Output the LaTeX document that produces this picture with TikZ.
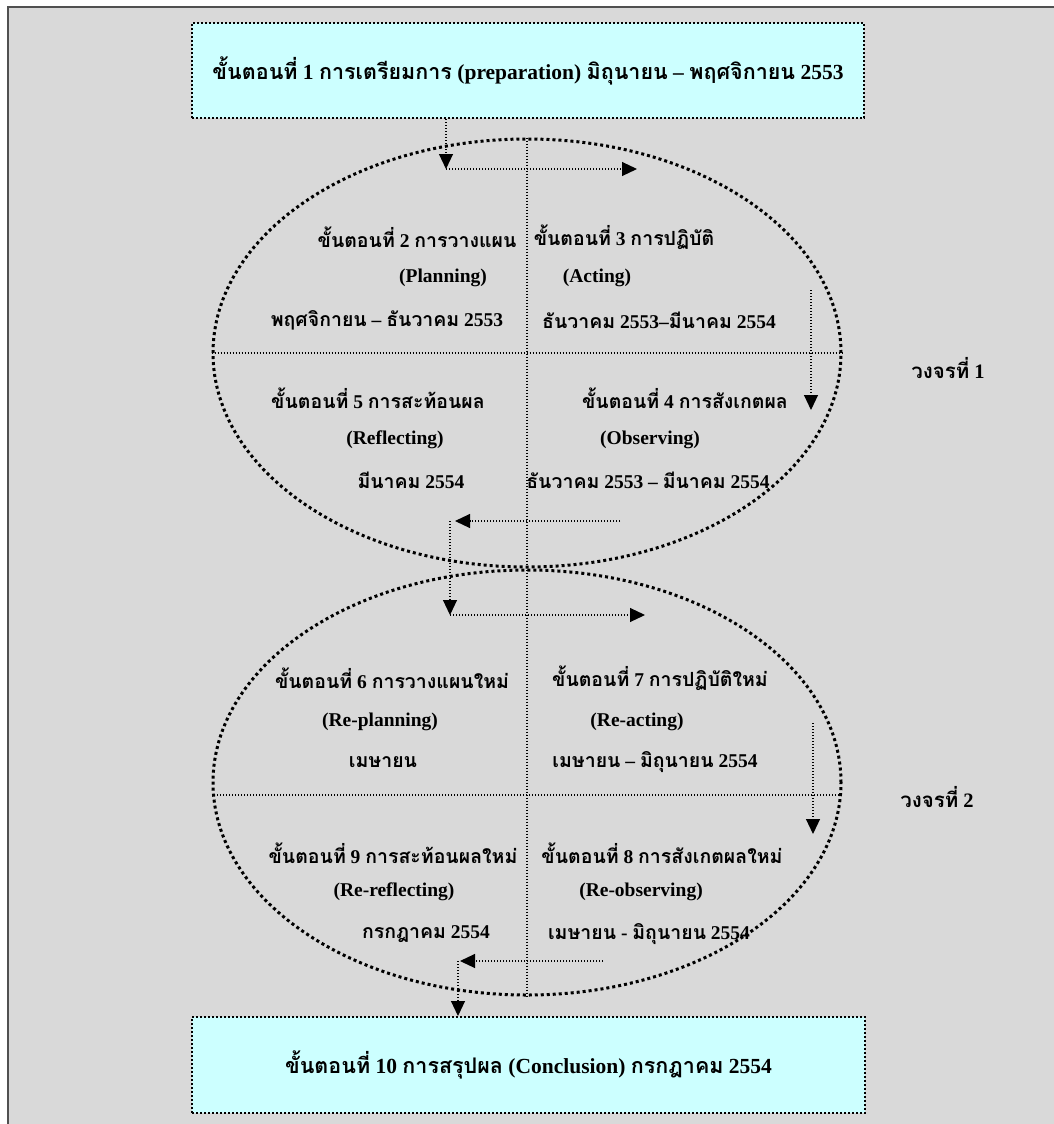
\documentclass[tikz,border=0pt]{standalone}
\usepackage{fontspec}
\setmainfont{Liberation Serif}
\newfontfamily\thaifont[Script=Thai]{Loma}
\newcommand{\thaitxt}[1]{{\thaifont #1}}
\usetikzlibrary{arrows.meta,shapes.geometric}
\definecolor{bggray}{HTML}{D9D9D9}
\definecolor{framegray}{HTML}{505050}
\definecolor{boxcyan}{HTML}{CCFFFF}

\begin{document}
\begin{tikzpicture}[x=1pt, y=-1pt,
    txt/.style={font=\bfseries\fontsize{19.5}{23}\selectfont, inner sep=0pt},
    phasebox/.style={draw, fill=boxcyan, line width=2pt, dash pattern=on 2pt off 2pt,
                     font=\bfseries\fontsize{21.5}{25}\selectfont},
    cycleline/.style={draw, ellipse, line width=3pt, dash pattern=on 3pt off 3pt,
                      minimum width=628, minimum height=428, inner sep=0pt},
    divider/.style={line width=1.1pt, dash pattern=on 1.1pt off 1.9pt},
    flow/.style={divider, -{Triangle[width=14pt,length=15pt]}}
  ]

        %Page and frame
        \useasboundingbox (0,0) rectangle (1054,1124);
        \fill [white]    (0,0) rectangle (1054,1124);
        \fill [bggray]   (8,7) rectangle (1054,1124);
        \draw [framegray, line width=2pt] (8,1124) -- (8,7) -- (1054,7);

        %Preparation and conclusion
        \node [phasebox, minimum width=672, minimum height=95] (prep) at (528,70.5)
              {\thaitxt{ขั้นตอนที่} 1 \thaitxt{การเตรียมการ} (preparation) \thaitxt{มิถุนายน} – \thaitxt{พฤศจิกายน} 2553};
        \node [phasebox, minimum width=673, minimum height=96] (conc) at (528.5,1065)
              {\thaitxt{ขั้นตอนที่} 10 \thaitxt{การสรุปผล} (Conclusion) \thaitxt{กรกฎาคม} 2554};

        %Cycles
        \node [cycleline] (cyc1) at (527,353) {};
        \node [cycleline, minimum height=425] (cyc2) at (527,782.5) {};
        \draw [divider]  (cyc1.north)  --  (cyc2.south);
        \draw [divider]  (cyc1.west)   --  (cyc1.east);
        \draw [divider]  (214,795)     --  (840,795);

        \node [txt, font=\bfseries\fontsize{20.5}{24}\selectfont] (lap1) at (948,368) {\thaitxt{วงจรที่} 1};
        \node [txt, font=\bfseries\fontsize{20.5}{24}\selectfont] (lap2) at (937,797) {\thaitxt{วงจรที่} 2};

        %Cycle 1 texts
        \node [txt] (s2a) at (417,237) {\thaitxt{ขั้นตอนที่} 2 \thaitxt{การวางแผน}};
        \node [txt] (s2b) at (443,278) {(Planning)};
        \node [txt] (s2c) at (387,320) {\thaitxt{พฤศจิกายน} – \thaitxt{ธันวาคม} 2553};
        \node [txt] (s3a) at (624,237) {\thaitxt{ขั้นตอนที่} 3 \thaitxt{การปฏิบัติ}};
        \node [txt] (s3b) at (597,278) {(Acting)};
        \node [txt] (s3c) at (659,320) {\thaitxt{ธันวาคม} 2553–\thaitxt{มีนาคม} 2554};
        \node [txt] (s5a) at (378,398) {\thaitxt{ขั้นตอนที่} 5 \thaitxt{การสะท้อนผล}};
        \node [txt] (s5b) at (395,440) {(Reflecting)};
        \node [txt] (s5c) at (411,480) {\thaitxt{มีนาคม} 2554};
        \node [txt] (s4a) at (685,398) {\thaitxt{ขั้นตอนที่} 4 \thaitxt{การสังเกตผล}};
        \node [txt] (s4b) at (650,440) {(Observing)};
        \node [txt] (s4c) at (648,480) {\thaitxt{ธันวาคม} 2553 – \thaitxt{มีนาคม} 2554};

        %Cycle 2 texts
        \node [txt] (s6a) at (392,678) {\thaitxt{ขั้นตอนที่} 6 \thaitxt{การวางแผนใหม่}};
        \node [txt] (s6b) at (380,722) {(Re-planning)};
        \node [txt] (s6c) at (383,762) {\thaitxt{เมษายน}};
        \node [txt] (s7a) at (660,678) {\thaitxt{ขั้นตอนที่} 7 \thaitxt{การปฏิบัติใหม่}};
        \node [txt] (s7b) at (637,722) {(Re-acting)};
        \node [txt] (s7c) at (655,762) {\thaitxt{เมษายน} – \thaitxt{มิถุนายน} 2554};
        \node [txt] (s9a) at (393,853) {\thaitxt{ขั้นตอนที่} 9 \thaitxt{การสะท้อนผลใหม่}};
        \node [txt] (s9b) at (394,892) {(Re-reflecting)};
        \node [txt] (s9c) at (426,934) {\thaitxt{กรกฎาคม} 2554};
        \node [txt] (s8a) at (662,853) {\thaitxt{ขั้นตอนที่} 8 \thaitxt{การสังเกตผลใหม่}};
        \node [txt] (s8b) at (641,892) {(Re-observing)};
        \node [txt] (s8c) at (649,934) {\thaitxt{เมษายน} - \thaitxt{มิถุนายน} 2554};

        %Flow arrows
        \coordinate (p1) at (446,169);
        \coordinate (p2) at (637,169);
        \draw [flow]  (prep.south -| p1) -- (p1);
        \draw [flow]  (p1) -- (p2);

        \coordinate (q1) at (811,290);
        \coordinate (q2) at (811,410);
        \draw [flow]  (q1) -- (q2);

        \coordinate (r1) at (620,521);
        \coordinate (r2) at (455,521);
        \coordinate (r3) at (450,521);
        \coordinate (r4) at (450,615);
        \coordinate (r5) at (645,615);
        \draw [flow]  (r1) -- (r2);
        \draw [flow]  (r3) -- (r4);
        \draw [flow]  (r4) -- (r5);

        \coordinate (u1) at (813,723);
        \coordinate (u2) at (813,834);
        \draw [flow]  (u1) -- (u2);

        \coordinate (v1) at (603,961);
        \coordinate (v2) at (460,961);
        \coordinate (v3) at (458,961);
        \draw [flow]  (v1) -- (v2);
        \draw [flow]  (v3) -- (v3 |- conc.north);

\end{tikzpicture}
\end{document}
